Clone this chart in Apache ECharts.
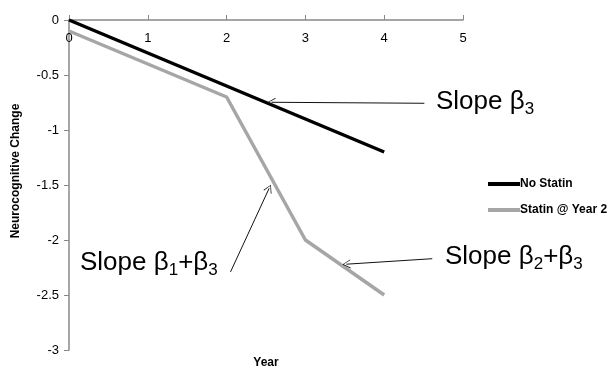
<!DOCTYPE html>
<html><head><meta charset="utf-8">
<script src="https://cdn.jsdelivr.net/npm/echarts@6/dist/echarts.min.js"></script>
<style>html,body{margin:0;padding:0;background:#fff}#c{width:616px;height:369px}</style>
</head><body><div id="c"></div>
<script>
const years = [0, 1, 2, 3, 4];
const noStatin = [0, -0.3, -0.6, -0.9, -1.2];
const statinYear2 = [-0.1, -0.4, -0.7, -2.0, -2.5];
const yTicks = [0, -0.5, -1, -1.5, -2, -2.5, -3];
const xTicks = [0, 1, 2, 3, 4, 5];
// annotation arrows in data coords: [tail, head]
const arrowB3 = [[4.51, -0.757], [2.57, -0.748]];
const arrowB13 = [[2.05, -2.29], [2.54, -1.53]];
const arrowB23 = [[4.61, -2.17], [3.52, -2.22]];

const FONT = '"Liberation Sans", Arial, sans-serif';
const chevron = 'path://M0,10 L5,0 L10,10 L9,10 L5,1.6 L1,10 Z';

function arrow(a){
  return [{coord: a[0], symbol: 'none'}, {coord: a[1], symbol: chevron, symbolSize: [9, 8]}];
}

const chart = echarts.init(document.getElementById('c'), null, {renderer: 'canvas'});
const subRich = {
  a: {fontSize: 26, fontFamily: FONT, color: '#000', lineHeight: 32},
  s: {fontSize: 17, fontFamily: FONT, color: '#000', lineHeight: 32, padding: [15, 0, 0, 0]}
};
chart.setOption({
  animation: false,
  textStyle: {fontFamily: FONT},
  grid: {left: 69, top: 20, right: 153, bottom: 19, containLabel: false, outerBoundsMode: 'none'},
  xAxis: [{
    type: 'value', min: 0, max: 5, interval: 1, position: 'top',
    axisLine: {onZero: false, lineStyle: {color: '#888', width: 1.5}},
    axisTick: {inside: false, length: 5, lineStyle: {color: '#888'}},
    axisLabel: {inside: true, fontSize: 13, color: '#000', margin: 12},
    splitLine: {show: false}
  }, {
    type: 'value', min: 0, max: 5, interval: 1, position: 'bottom',
    name: 'Year', nameLocation: 'middle', nameGap: 13,
    nameTextStyle: {fontWeight: 'bold', fontSize: 12, color: '#000', verticalAlign: 'middle'},
    axisLine: {show: false}, axisTick: {show: false}, axisLabel: {show: false},
    splitLine: {show: false}
  }],
  yAxis: {
    type: 'value', min: -3, max: 0, interval: 0.5,
    name: 'Neurocognitive Change', nameLocation: 'middle', nameGap: 47,
    nameTextStyle: {fontWeight: 'bold', fontSize: 12, color: '#000', padding: [0, 0, 0, 28]},
    axisLine: {show: true, lineStyle: {color: '#888', width: 1.5}},
    axisTick: {show: true, length: 5, lineStyle: {color: '#888'}},
    axisLabel: {fontSize: 13, color: '#000', margin: 10},
    splitLine: {show: false}
  },
  legend: {
    orient: 'vertical', left: 483, top: 173, itemGap: 14, padding: 5,
    itemWidth: 32, itemHeight: 4, icon: 'rect',
    textStyle: {fontSize: 12, fontWeight: 'bold', color: '#000', padding: [0, 0, 0, -5]},
    data: ['No Statin', 'Statin @ Year 2']
  },
  series: [
    {name: 'No Statin', type: 'line', data: years.map((x, i) => [x, noStatin[i]]),
     symbol: 'none', lineStyle: {color: '#000', width: 3.5}, itemStyle: {color: '#000'}},
    {name: 'Statin @ Year 2', type: 'line', data: years.map((x, i) => [x, statinYear2[i]]),
     symbol: 'none', lineStyle: {color: '#a6a6a6', width: 3.5}, itemStyle: {color: '#a6a6a6'},
     markLine: {silent: true, animation: false, label: {show: false},
       lineStyle: {color: '#111', width: 1, type: 'solid'},
       data: [arrow(arrowB3), arrow(arrowB13), arrow(arrowB23)]}}
  ],
  graphic: [
    {type: 'text', left: 436, top: 86, style: {text: '{a|Slope β}{s|3}', rich: subRich}},
    {type: 'text', left: 80, top: 247, style: {text: '{a|Slope β}{s|1}{a|+β}{s|3}', rich: subRich}},
    {type: 'text', left: 445, top: 241, style: {text: '{a|Slope β}{s|2}{a|+β}{s|3}', rich: subRich}}
  ]
});
</script></body></html>
